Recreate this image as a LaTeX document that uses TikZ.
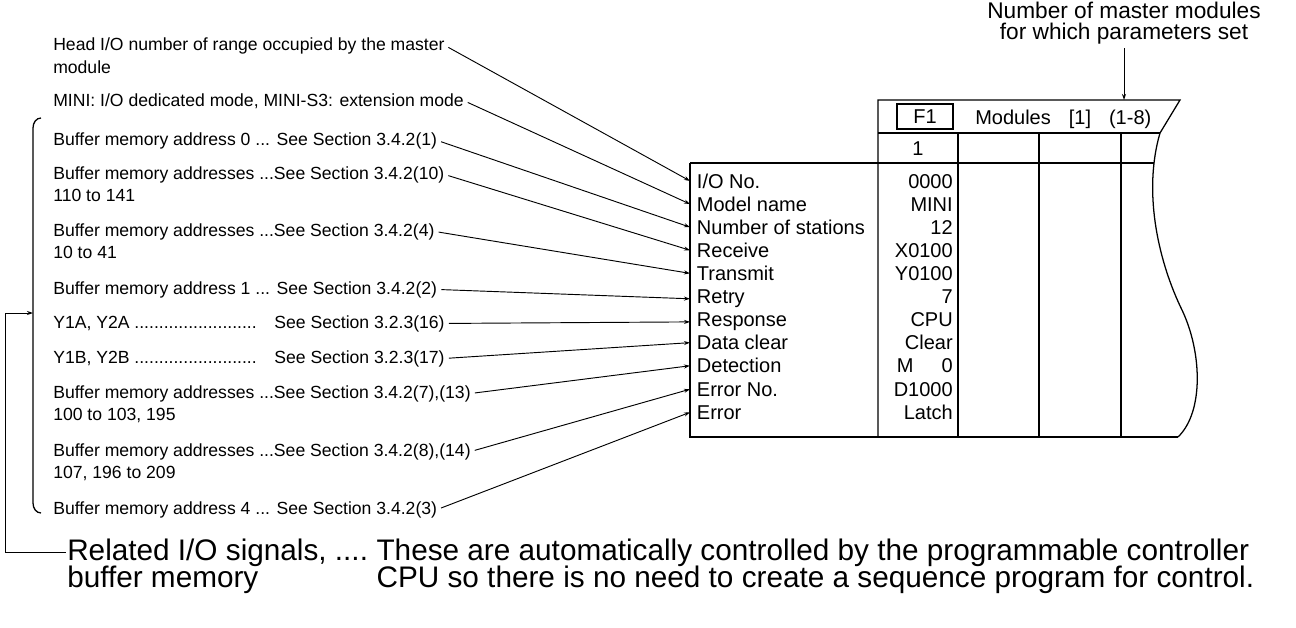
\documentclass[tikz,border=0pt]{standalone}
\usepackage{fontspec}
\setmainfont{Liberation Sans}
\usetikzlibrary{positioning, arrows.meta}

\begin{document}
\begin{tikzpicture}[
    x=0.75pt, y=-0.75pt, >={Stealth[length=4.5pt, width=3pt]},
    note/.style={anchor=base west, inner sep=0pt, font=\fontsize{13.2}{16}\selectfont},
    tab/.style={anchor=base west, inner sep=0pt, font=\fontsize{15}{17}\selectfont},
    big/.style={anchor=base west, inner sep=0pt, font=\fontsize{22.3}{25}\selectfont},
    cell/.style={tab, inner xsep=5pt},
    val/.style={tab, anchor=base east},
    ptr/.style={->, line width=0.7pt, shorten <=3pt},
    frame/.style={line width=0.95pt}
]
    \useasboundingbox (0,0) rectangle (1296,628);

    \node[note] (n1)   at (53,50)  {Head I/O number of range occupied by the master};
    \node[note] (n1b)  at (53,73)  {module};
    \node[note] (n2)   at (53,106) {MINI: I/O dedicated mode, MINI-S3: extension mode};
    \node[note] (n3)   at (53,145) {Buffer memory address 0 ... See Section 3.4.2(1)};
    \node[note] (n4)   at (53,179) {Buffer memory addresses ...See Section 3.4.2(10)};
    \node[note] (n4b)  at (53,201) {110 to 141};
    \node[note] (n5)   at (53,236) {Buffer memory addresses ...See Section 3.4.2(4)};
    \node[note] (n5b)  at (53,258) {10 to 41};
    \node[note] (n6)   at (53,294) {Buffer memory address 1 ... See Section 3.4.2(2)};
    \node[note] (n7)   at (53,328) {\makebox[12.56em][l]{Y1A, Y2A .........................}See Section 3.2.3(16)};
    \node[note] (n8)   at (53,363) {\makebox[12.56em][l]{Y1B, Y2B .........................}See Section 3.2.3(17)};
    \node[note] (n9)   at (53,398) {Buffer memory addresses ...See Section 3.4.2(7),(13)};
    \node[note] (n9b)  at (53,420) {100 to 103, 195};
    \node[note] (n10)  at (53,456) {Buffer memory addresses ...See Section 3.4.2(8),(14)};
    \node[note] (n10b) at (53,478) {107, 196 to 209};
    \node[note] (n11)  at (53,514) {Buffer memory address 4 ... See Section 3.4.2(3)};

    \draw[frame] (41,118) to[out=180, in=90] (33,128) -- (33,503) to[out=-90, in=180] (41,513);
    \coordinate (brk) at (33,313);
    \coordinate (elbow) at (5,313);

    \draw[frame] (690,163) -- (690,437) -- (1178,437);
    \draw[frame] (690,163) -- (1154,163);
    \draw[frame] (878,437) -- (878,100) -- (1180,100) -- (1160,133);
    \draw[frame] (878,133) -- (1160,133);
    \foreach \x in {958,1039,1121}
        \draw[frame] (\x,133) -- (\x,437);
    \draw[frame] (1160,133) .. controls (1142,195) and (1160,265) .. (1182,310)
        .. controls (1202,352) and (1204,412) .. (1178,437);

    \node[tab, anchor=center, draw, frame, minimum width=42pt, minimum height=18.75pt] (f1) at (925,116.5) {F1};
    \node[tab] (mods) at (975,124) {Modules\hspace{0.9em}[1]\hspace{0.9em}(1-8)};
    \node[tab, anchor=base] (one) at (918,155) {1};

    \node[tab, anchor=center, align=center, font=\fontsize{17}{16}\selectfont] (nmm) at (1124,23)
        {Number of master modules\\for which parameters set};
    \coordinate (hdtop) at (1124,100);
    \draw[ptr] (nmm) -- (hdtop);

    \foreach \lab/\val [count=\i] in {{I/O No.}/0000, {Model name}/MINI, {Number of stations}/12,
        Receive/X0100, Transmit/Y0100, Retry/7, Response/{CPU\hspace{3pt}}, {Data clear}/Clear,
        Detection/{M\hspace{1.4em}0}, {Error No.}/D1000, Error/Latch} {
        \node[cell] (r\i) at (690,{165+23.1*\i}) {\lab};
        \node[val]  (v\i) at (953,{165+23.1*\i}) {\val};
        \draw[ptr] (n\i.east) -- (r\i.west);
    }

    \node[big] (rel)   at (67,560)  {Related I/O signals, ....};
    \node[big] (relb)  at (67,587)  {buffer memory};
    \node[big, right=6pt of rel.base east, anchor=base west] (expl) {These are automatically controlled by the programmable controller};
    \node[big] (explb) at (expl.base west |- relb.base) {CPU so there is no need to create a sequence program for control.};
    \draw[ptr, shorten <=1pt] (rel.west) -| (elbow) -- (brk);
\end{tikzpicture}
\end{document}
